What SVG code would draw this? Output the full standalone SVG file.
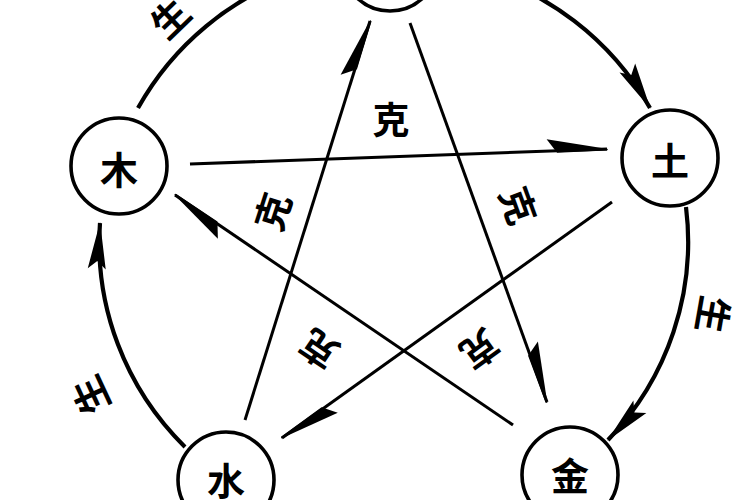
<svg xmlns="http://www.w3.org/2000/svg" width="750" height="500" viewBox="0 0 750 500">
  <style>
    .node { fill: #ffffff; stroke: #000000; stroke-width: 3.6; }
    .ntext { font-family: "Noto Sans CJK SC", "Noto Sans CJK JP", sans-serif; font-size: 38px; font-weight: bold; fill: #000000; text-anchor: middle; dominant-baseline: central; }
    .lbl { font-family: "Noto Sans CJK SC", "Noto Sans CJK JP", sans-serif; font-size: 37px; font-weight: bold; fill: #000000; text-anchor: middle; dominant-baseline: central; }
    .ke { fill: none; stroke: #000000; stroke-width: 3; marker-end: url(#keHead); }
    .sheng { fill: none; stroke: #000000; stroke-width: 4.2; }
    .sheng-a { fill: none; stroke: #000000; stroke-width: 4.2; marker-end: url(#shengHead); }
  </style>
  <defs>
    <marker id="keHead" markerUnits="userSpaceOnUse" orient="auto" refX="0" refY="0" markerWidth="80" markerHeight="40" overflow="visible">
      <path d="M1,0 L-60,-12 L-50,2 L0,1.5 Z" fill="#000000"/>
    </marker>
    <marker id="shengHead" markerUnits="userSpaceOnUse" orient="auto" refX="0" refY="0" markerWidth="80" markerHeight="40" overflow="visible">
      <path d="M1,0 L-46,-9 L-38,0 L-46,9 Z" fill="#000000"/>
    </marker>
  </defs>
  <rect x="0" y="0" width="750" height="500" fill="#ffffff"/>

  <g id="connectors">
    <path class="sheng" d="M138,108 A292,288 0 0 1 300,-26"/>
    <path class="sheng-a" d="M470,-30 A292,288 0 0 1 650,108"/>
    <path class="sheng-a" d="M686,207 A292,288 0 0 1 608,440"/>
    <path class="sheng-a" d="M185,447 A292,288 0 0 1 100,223"/>

    <line class="ke" x1="190" y1="164" x2="607" y2="149"/>
    <line class="ke" x1="410" y1="23" x2="547" y2="402"/>
    <line class="ke" x1="612" y1="202" x2="282" y2="438"/>
    <line class="ke" x1="245" y1="420" x2="370" y2="21"/>
    <line class="ke" x1="513" y1="425" x2="175" y2="195"/>
  </g>

  <g id="labels">
    <text class="lbl" transform="translate(391,118)">克</text>
    <text class="lbl" transform="translate(271,211) rotate(-72)">克</text>
    <text class="lbl" transform="translate(520,205) rotate(70)">克</text>
    <text class="lbl" transform="translate(318,351) rotate(214)">克</text>
    <text class="lbl" transform="translate(481,351) rotate(144)">克</text>
    <text class="lbl" transform="translate(169,17) rotate(-44)">生</text>
    <text class="lbl" transform="translate(715,315) rotate(100)">生</text>
    <text class="lbl" transform="translate(89,396) rotate(-115)">生</text>
  </g>

  <g id="node-fire">
    <circle class="node" cx="390" cy="-37" r="48"/>
  </g>
  <g id="node-wood">
    <circle class="node" cx="119" cy="166" r="48"/>
    <text class="ntext" x="119" y="167">木</text>
  </g>
  <g id="node-earth">
    <circle class="node" cx="670" cy="158" r="48"/>
    <text class="ntext" x="670" y="158">土</text>
  </g>
  <g id="node-water">
    <circle class="node" cx="226" cy="480" r="48"/>
    <text class="ntext" x="226" y="478">水</text>
  </g>
  <g id="node-metal">
    <circle class="node" cx="570" cy="475" r="48"/>
    <text class="ntext" x="570" y="473">金</text>
  </g>
</svg>
